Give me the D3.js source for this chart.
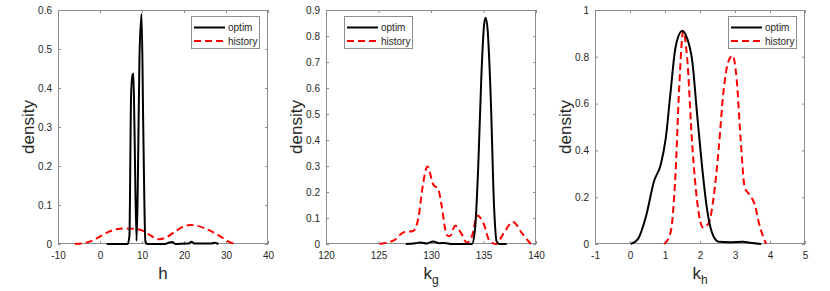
<!DOCTYPE html>
<html>
<head>
<meta charset="utf-8">
<script src="https://cdn.jsdelivr.net/npm/d3@7"></script>
<style>
  body{margin:0;background:#fff}
  svg{display:block;font-family:"Liberation Sans",Arial,sans-serif}
</style>
</head>
<body>
<svg id="chart" width="830" height="291"></svg>
<script>
// panel 1: h
const hOptim=[[1.6,0],[6.6,0],[7.0,0.02],[7.4,0.38],[7.7,0.43],[7.95,0.437],[8.2,0.3],[8.7,0.008],[9.0,0.15],[9.4,0.48],[9.9,0.59],[10.3,0.3],[10.8,0.008],[11.2,0],[15.5,0],[16.5,0.004],[17.2,0.005],[18,0],[21,0.001],[21.8,0.006],[22.6,0.001],[26.5,0.001],[27.2,0.003],[28.2,0]]
const hHistory=[[-6,0],[-4,0.002],[-2,0.008],[0,0.019],[2,0.031],[4,0.038],[6,0.04],[8,0.039],[10,0.035],[12,0.022],[14,0.012],[16,0.018],[18,0.033],[20,0.045],[21.5,0.049],[23,0.047],[25,0.04],[27,0.03],[29,0.017],[31,0.004],[32.5,0]]
// panel 2: k_g
const kgOptim=[[127.6,0],[128.5,0.003],[129.0,0.006],[129.6,0.002],[130.2,0.01],[130.8,0.003],[131.3,0.004],[132,0],[133.9,0],[134.2,0.06],[134.5,0.3],[134.8,0.65],[135.05,0.84],[135.2,0.87],[135.4,0.82],[135.7,0.55],[136.0,0.15],[136.25,0.01],[136.5,0],[137.2,0]]
const kgHistory=[[125.1,0],[125.8,0.005],[126.5,0.015],[127.4,0.045],[128.3,0.05],[128.8,0.1],[129.2,0.22],[129.67,0.298],[130.2,0.23],[130.7,0.21],[131.0,0.15],[131.5,0.035],[131.8,0.03],[132.3,0.07],[132.9,0.04],[133.4,0.005],[133.9,0.03],[134.4,0.11],[135.0,0.08],[135.6,0.01],[136.2,0],[136.9,0.04],[137.8,0.085],[138.7,0.04],[139.5,0]]
// panel 3: k_h
const khOptim=[[0.02,0],[0.22,0.02],[0.46,0.12],[0.69,0.27],[0.88,0.34],[1.02,0.45],[1.16,0.65],[1.30,0.84],[1.49,0.91],[1.63,0.88],[1.78,0.78],[1.92,0.55],[2.06,0.33],[2.2,0.15],[2.34,0.05],[2.53,0.01],[2.86,0.008],[3.23,0.01],[3.42,0.005],[3.75,0]]
const khHistory=[[0.98,0],[1.16,0.05],[1.3,0.3],[1.4,0.65],[1.52,0.91],[1.63,0.8],[1.78,0.42],[1.92,0.18],[2.09,0.07],[2.25,0.09],[2.39,0.2],[2.53,0.4],[2.67,0.65],[2.81,0.78],[2.93,0.805],[3.05,0.7],[3.16,0.45],[3.28,0.24],[3.42,0.21],[3.56,0.17],[3.70,0.08],[3.89,0]]

const seriesNames=['optim','history']

const panels=[
  {optim:hOptim,history:hHistory,xDomain:[-10,40],xTicks:[-10,0,10,20,30,40],yDomain:[0,0.6],yTicks:[0,0.1,0.2,0.3,0.4,0.5,0.6],label:'h',sub:'',left:58,legend:'right'},
  {optim:kgOptim,history:kgHistory,xDomain:[120,140],xTicks:[120,125,130,135,140],yDomain:[0,0.9],yTicks:[0,0.1,0.2,0.3,0.4,0.5,0.6,0.7,0.8,0.9],label:'k',sub:'g',left:326,legend:'left'},
  {optim:khOptim,history:khHistory,xDomain:[-1,5],xTicks:[-1,0,1,2,3,4,5],yDomain:[0,1],yTicks:[0,0.2,0.4,0.6,0.8,1],label:'k',sub:'h',left:595,legend:'right'}
]

const svg=d3.select('#chart')
const W=210, plotTop=10, plotBottom=244
const fmt=d=>String(+d.toFixed(1))

panels.forEach(p=>{
  const x=d3.scaleLinear().domain(p.xDomain).range([p.left,p.left+W])
  const y=d3.scaleLinear().domain(p.yDomain).range([plotBottom,plotTop])
  const g=svg.append('g')

  const tick=3
  const styleAxis=(sel)=>{
    sel.select('.domain').remove()
    sel.selectAll('line').attr('stroke','#8c8c8c')
    sel.selectAll('text').attr('fill','#262626').style('font-size','10px')
  }
  g.append('g').attr('transform',`translate(0,${plotBottom})`)
    .call(d3.axisBottom(x).tickValues(p.xTicks).tickSizeInner(-tick).tickSizeOuter(0).tickPadding(8).tickFormat(fmt))
    .call(styleAxis)
  g.append('g').attr('transform',`translate(0,${plotTop})`)
    .call(d3.axisTop(x).tickValues(p.xTicks).tickSizeInner(-tick).tickSizeOuter(0).tickFormat(''))
    .call(styleAxis)
  g.append('g').attr('transform',`translate(${p.left},0)`)
    .call(d3.axisLeft(y).tickValues(p.yTicks).tickSizeInner(-tick).tickSizeOuter(0).tickPadding(6).tickFormat(fmt))
    .call(styleAxis)
  g.append('g').attr('transform',`translate(${p.left+W},0)`)
    .call(d3.axisRight(y).tickValues(p.yTicks).tickSizeInner(-tick).tickSizeOuter(0).tickFormat(''))
    .call(styleAxis)

  g.append('rect')
    .attr('x',p.left+0.5).attr('y',plotTop+0.5)
    .attr('width',W-1).attr('height',plotBottom-plotTop-1)
    .attr('fill','none').attr('stroke','#8c8c8c').attr('stroke-width',1)

  const line=d3.line()
    .x(d=>x(d[0]))
    .y(d=>y(d[1]))
    .curve(d3.curveMonotoneX)

  g.append('path').datum(p.history)
    .attr('fill','none').attr('stroke','#ff0000')
    .attr('stroke-width',2).attr('stroke-dasharray','7,4')
    .attr('d',line)
  g.append('path').datum(p.optim)
    .attr('fill','none').attr('stroke','#000')
    .attr('stroke-width',2).attr('stroke-linejoin','round')
    .attr('d',line)

  // axis labels
  g.append('text')
    .attr('transform',`translate(${p.left-24},${(plotTop+plotBottom)/2}) rotate(-90)`)
    .attr('text-anchor','middle').attr('fill','#262626')
    .style('font-size','17px').text('density')
  const xl=g.append('text')
    .attr('x',p.left+W/2).attr('y',279)
    .attr('text-anchor','middle').attr('fill','#262626')
    .style('font-size','17px')
  xl.append('tspan').text(p.label)
  if(p.sub) xl.append('tspan').attr('dy',5).style('font-size','12px').text(p.sub)

  // legend
  const lw=68, lh=32
  const lx=p.legend==='right'?p.left+W-lw-9:p.left+18
  const ly=16
  const lg=g.append('g').attr('transform',`translate(${lx},${ly})`)
  lg.append('rect').attr('x',0.5).attr('y',0.5).attr('width',lw).attr('height',lh)
    .attr('fill','#fff').attr('stroke','#8c8c8c')
  seriesNames.forEach((name,i)=>{
    const yy=11.5+i*13.5
    lg.append('line').attr('x1',3).attr('x2',34).attr('y1',yy).attr('y2',yy)
      .attr('stroke',i===0?'#000':'#ff0000').attr('stroke-width',2)
      .attr('stroke-dasharray',i===0?null:'7,4')
    lg.append('text').attr('x',37).attr('y',yy+3.5)
      .attr('fill','#262626').style('font-size','10px').text(name)
  })
})
</script>
</body>
</html>
